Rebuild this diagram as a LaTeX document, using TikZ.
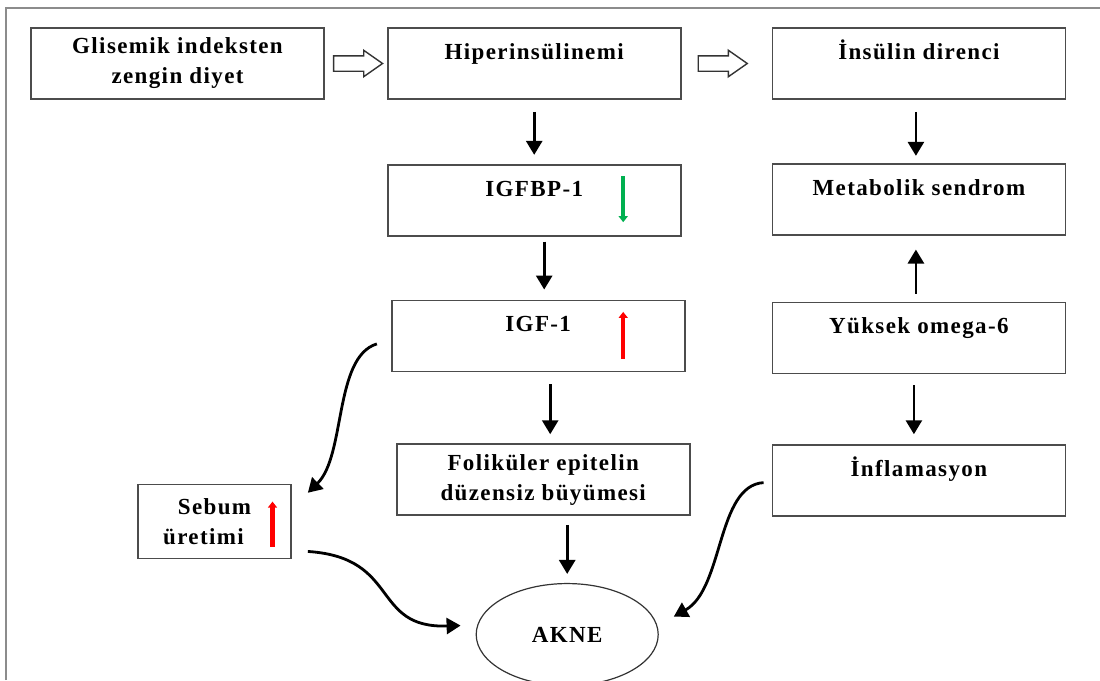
\documentclass[tikz,border=0pt]{standalone}
\usepackage{fontspec}
\setmainfont{Liberation Serif}
\newfontfamily\diafont[LetterSpace=6]{Liberation Serif}
\usepackage{tikz}
\usetikzlibrary{shapes.geometric, shapes.arrows, arrows.meta, positioning, calc}
\definecolor{upred}{RGB}{255,0,0}
\definecolor{downgreen}{RGB}{0,176,80}
\tikzset{
    block/.style={rectangle, draw=black!70, line width=1.7pt, align=center, minimum width=293pt, minimum height=71pt, font=\diafont\bfseries\fontsize{23}{30}\selectfont},
    oneline/.style={text height=14pt, text depth=22pt},
    result/.style={ellipse, draw=black!80, line width=1.2pt, minimum width=182pt, minimum height=102pt, font=\diafont\bfseries\fontsize{23}{30}\selectfont},
    hollow/.style={single arrow, draw=black!80, line width=1.4pt, inner xsep=0pt, inner ysep=7pt, minimum height=49pt, single arrow head extend=5.5pt, single arrow tip angle=70},
    arrow/.style={line width=2.8pt, -{Triangle[width=16pt,length=14pt]}, shorten <=12pt, shorten >=9pt},
    curve/.style={line width=2.8pt, -{Triangle[width=16pt,length=14pt]}},
    trend/.style={line width=4.5pt, -{Triangle[width=9pt,length=6pt]}},
    frame/.style={draw=black!45, line width=1.4pt}
}
\begin{document}
\begin{tikzpicture}[x=1pt, y=-1pt]
            \useasboundingbox (0,0) rectangle (1100,680);
            \draw[frame] (6,680) -- (6,8) -- (1100,8);

            \node[block] (glis) at (177.5,63.5) {Glisemik indeksten\\zengin diyet};
            \node[block, oneline, right=62pt of glis] (hiper) {Hiperinsülinemi};
            \node[block, oneline, right=90pt of hiper] (insulin) {İnsülin direnci};
            \node[hollow, right=8pt of glis] (flow1) {};
            \node[hollow, right=16pt of hiper] (flow2) {};

            \node[block, oneline, below=64pt of hiper] (igfbp) {IGFBP-1};
            \node[block, oneline, below=63pt of igfbp, xshift=4pt] (igf) {IGF-1};
            \node[block, below=71pt of igf, xshift=5pt] (folik) {Foliküler epitelin\\düzensiz büyümesi};
            \node[block, minimum width=153pt, minimum height=74pt, left=104pt of folik, yshift=-42pt] (sebum) {Sebum\\üretimi\hspace*{22pt}};
            \node[result, below=67pt of folik, xshift=24pt] (akne) {AKNE};

            \node[block, oneline, below=63pt of insulin] (metab) {Metabolik sendrom};
            \node[block, oneline, below=66pt of metab] (yuksek) {Yüksek omega-6};
            \node[block, oneline, below=70pt of yuksek] (inflam) {İnflamasyon};

            % up / down markers
            \draw[trend, downgreen] ($(igfbp.center)+(89,-24)$) -- ($(igfbp.center)+(89,22)$);
            \draw[trend, upred] ($(igf.center)+(85,23)$) -- ($(igf.center)+(85,-24)$);
            \draw[trend, upred] ($(sebum.center)+(58,25)$) -- ($(sebum.center)+(58,-20)$);

            \draw[arrow] (hiper) -- (igfbp);
            \draw[arrow, shorten <=5pt, shorten >=10pt] ([xshift=10pt]igfbp.south) -- ([xshift=6pt]igf.north);
            \draw[arrow] ([xshift=12pt]igf.south) -- ([xshift=7pt]folik.north);
            \draw[arrow, shorten <=9pt] ([xshift=24pt]folik.south) -- (akne.north);
            \draw[arrow, shorten >=7pt] ([xshift=-3pt]insulin.south) -- ([xshift=-3pt]metab.north);
            \draw[arrow, shorten <=8pt, shorten >=14pt] ([xshift=-3pt]yuksek.north) -- ([xshift=-3pt]metab.south);
            \draw[arrow, shorten <=11pt, shorten >=10pt] ([xshift=-5pt]yuksek.south) -- ([xshift=-5pt]inflam.north);

            \draw[curve] ($(igf.west)+(-14,8)$) .. controls +(-43,13) and +(38,-37) .. ($(sebum.north east)+(16,9)$);
            \draw[curve] ($(sebum.south east)+(16,-8)$) .. controls +(93,6) and +(-90,3) .. ($(akne.west)+(-15,-9)$);
            \draw[curve] ($(inflam.west)+(-8,2)$) .. controls +(-47,3) and +(50,-28) .. ($(akne.east)+(15,-18)$);
        \end{tikzpicture}
\end{document}
